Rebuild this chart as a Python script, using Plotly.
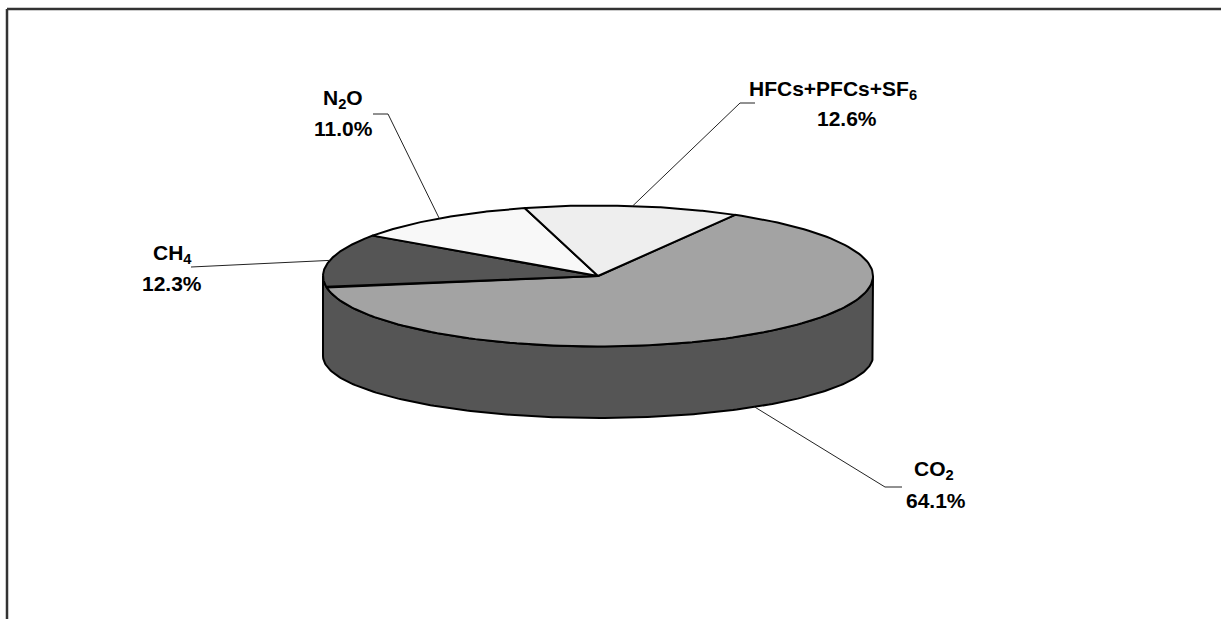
import numpy as np
import plotly.graph_objects as go

# ---- data ----
gases = ["CO2", "CH4", "N2O", "HFCs+PFCs+SF6"]
gas_labels = ["CO<sub>2</sub>", "CH<sub>4</sub>", "N<sub>2</sub>O", "HFCs+PFCs+SF<sub>6</sub>"]
shares = [64.1, 12.3, 11.0, 12.6]

# ---- styling / layout ----
top_colors = ["#A3A3A3", "#555555", "#F8F8F8", "#EEEEEE"]
side_color = "#555555"
W, H = 1221, 619
CX, CY_TOP, RX, RY_TOP = 598, 276, 275, 70.5
CY_BOT, RY_BOT = 356, 62
START_DEG = 60.1  # angle of first slice edge (math degrees), slices run clockwise

# label anchor positions (name line, percent line, line end, knee)
label_pos = {
    "CO2": ((934, 470), (936, 500), (902, 487), (885, 487)),
    "CH4": ((172, 254), (172, 283), (191, 267), (191, 267)),
    "N2O": ((343, 99), (343, 128), (373, 114), (388, 114)),
    "HFCs+PFCs+SF6": ((833, 90), (847, 118), (755, 103), (740, 103)),
}

fig = go.Figure()

def top_pt(deg):
    r = np.radians(deg)
    return CX + RX * np.cos(r), CY_TOP - RY_TOP * np.sin(r)

def bot_pt(deg):
    r = np.radians(deg)
    return CX + RX * np.cos(r), CY_BOT - RY_BOT * np.sin(r)

# front side (visible from 180 to 360 degrees)
a = np.linspace(180, 360, 200)
tx, ty = top_pt(a)
bx, by = bot_pt(a[::-1])
fig.add_trace(go.Scatter(
    x=np.concatenate([tx, bx, tx[:1]]), y=np.concatenate([ty, by, ty[:1]]),
    mode="lines", fill="toself", fillcolor=side_color,
    line=dict(color="black", width=2), hoverinfo="skip", showlegend=False))

# top wedges
total = sum(shares)
edges = [START_DEG]
for v in shares:
    edges.append(edges[-1] - v / total * 360.0)
mids = []
for i, v in enumerate(shares):
    a0, a1 = edges[i], edges[i + 1]
    mids.append((a0 + a1) / 2)
    arc = np.linspace(a0, a1, 150)
    ax_, ay_ = top_pt(arc)
    xs = np.concatenate([[CX], ax_, [CX]])
    ys = np.concatenate([[CY_TOP], ay_, [CY_TOP]])
    fig.add_trace(go.Scatter(
        x=xs, y=ys, mode="lines", fill="toself", fillcolor=top_colors[i],
        line=dict(color="black", width=2), hoverinfo="skip", showlegend=False))

FONT = dict(family="Liberation Sans, Arial, sans-serif", size=21, color="black", weight="bold")

# leader lines and labels
for i, g in enumerate(gases):
    m = mids[i]
    if np.sin(np.radians(m)) < -0.5:
        px, py = bot_pt(m)
    else:
        px, py = top_pt(m)
    name_xy, pct_xy, end_xy, knee_xy = label_pos[g]
    fig.add_trace(go.Scatter(
        x=[px, knee_xy[0], end_xy[0]], y=[py, knee_xy[1], end_xy[1]],
        mode="lines", line=dict(color="#222222", width=1),
        hoverinfo="skip", showlegend=False))
    fig.add_annotation(x=name_xy[0], y=name_xy[1], text=gas_labels[i],
                       showarrow=False, xanchor="center", yanchor="middle", font=FONT)
    fig.add_annotation(x=pct_xy[0], y=pct_xy[1], text=f"{shares[i]:.1f}%",
                       showarrow=False, xanchor="center", yanchor="middle", font=FONT)

# chart frame (left and top borders)
fig.add_shape(type="line", x0=7, x1=7, y0=9, y1=H, line=dict(color="#333333", width=2.5))
fig.add_shape(type="line", x0=7, x1=W, y0=9, y1=9, line=dict(color="#333333", width=2.5))

fig.update_layout(
    width=W, height=H, margin=dict(l=0, r=0, t=0, b=0),
    paper_bgcolor="white", plot_bgcolor="white",
    xaxis=dict(range=[0, W], visible=False, fixedrange=True),
    yaxis=dict(range=[H, 0], visible=False, fixedrange=True),
    showlegend=False,
)

fig.write_html("out.html")
